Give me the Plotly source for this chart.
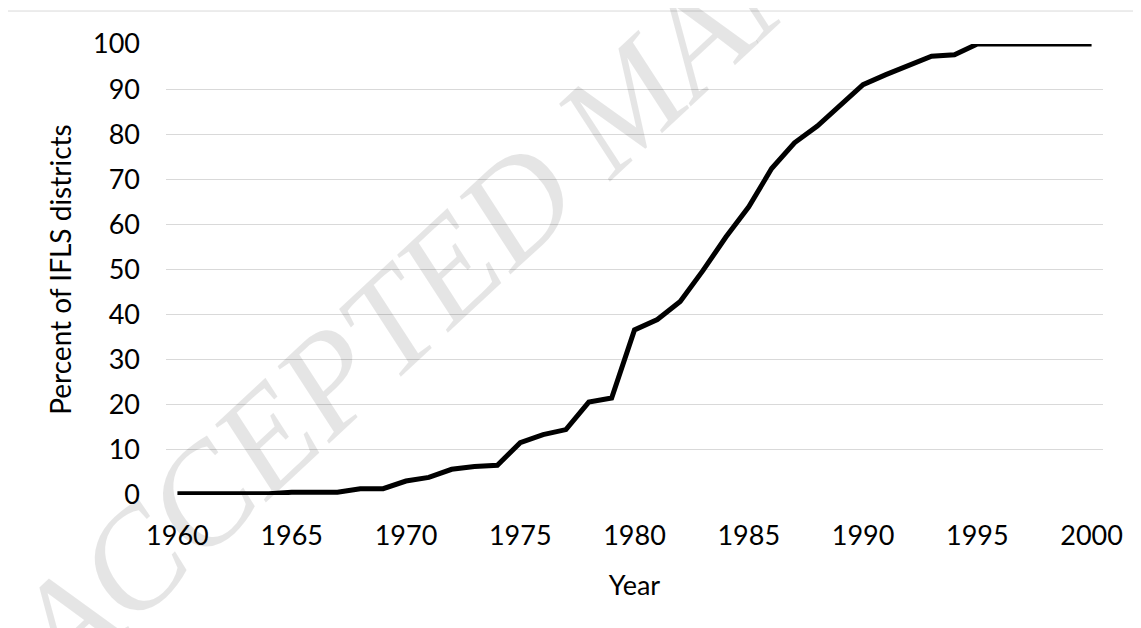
import plotly.graph_objects as go

years = list(range(1960, 2001))
percent = [0.3, 0.3, 0.3, 0.3, 0.3, 0.6, 0.6, 0.6, 1.4, 1.4,
           3.1, 3.9, 5.7, 6.3, 6.6, 11.6, 13.4, 14.5, 20.6, 21.5,
           36.6, 38.9, 42.9, 49.8, 57.2, 63.9, 72.4, 78.1, 81.8, 86.4,
           91.0, 93.2, 95.4, 97.3, 97.6, 100, 100, 100, 100, 100, 100]
x_ticks = [1960, 1965, 1970, 1975, 1980, 1985, 1990, 1995, 2000]
y_ticks = [0, 10, 20, 30, 40, 50, 60, 70, 80, 90, 100]

FONT = "Lato"
# page body has an 8px margin: shrink the figure so it fits the window
W, H = 1133, 620
L, T = 158, 36
PW = 937
PH = 451.5

fig = go.Figure()
fig.add_trace(go.Scatter(x=years, y=percent, mode="lines",
                         line=dict(color="black", width=5), showlegend=False))

fig.update_layout(
    width=W, height=H,
    margin=dict(l=L, r=W - L - PW, t=T, b=H - T - PH, autoexpand=False),
    paper_bgcolor="white", plot_bgcolor="white",
    font=dict(family=FONT, size=27, color="black"),
    xaxis=dict(range=[1959.5, 2000.5], tickvals=x_ticks, showgrid=False,
               zeroline=False, showline=False, ticks="", ticklabelstandoff=22,
               title=dict(text="Year", standoff=26, font=dict(size=27))),
    yaxis=dict(range=[0, 100], tickvals=y_ticks, showgrid=True,
               gridcolor="#d9d9d9", gridwidth=1, zeroline=False, showline=False,
               ticks="", ticklabelstandoff=25,
               title=dict(text="Percent of IFLS districts", standoff=13, font=dict(size=28))),
    shapes=[dict(type="rect", xref="paper", yref="paper",
                 x0=(-1 - L) / PW, x1=(W + 20 - L) / PW,
                 y0=-(H + 20 - T - PH) / PH, y1=(T + PH - 3) / PH,
                 line=dict(color="#d9d9d9", width=1), layer="below")],
    annotations=[dict(text="<i>ACCEPTED MANUSCRIPT</i>", xref="paper", yref="paper",
                      x=(612 - L) / PW, y=(T + PH - 100) / PH,
                      xanchor="center", yanchor="middle", showarrow=False,
                      textangle=-43,
                      font=dict(family="Liberation Serif", size=140,
                                color="rgba(0,0,0,0.10)"))],
)

fig.write_html("out.html")
